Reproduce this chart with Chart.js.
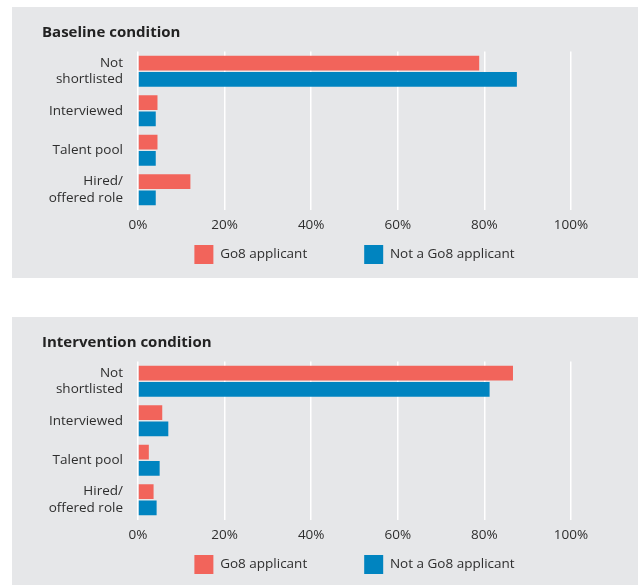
<!DOCTYPE html>
<html>
<head>
<meta charset="utf-8">
<script src="https://cdn.jsdelivr.net/npm/chart.js@4.4.1/dist/chart.umd.min.js"></script>
<style>
  html, body { margin: 0; padding: 0; background: #fff; width: 638px; height: 585px; overflow: hidden; }
  .panel { position: absolute; left: 12px; width: 626px; height: 271px; background: #e6e7e9; overflow: hidden; }
  #p1 { top: 7px; }
  #p2 { top: 317px; height: 268px; }
</style>
</head>
<body>
<div class="panel" id="p1"><canvas id="baseline" width="626" height="271"></canvas></div>
<div class="panel" id="p2"><canvas id="intervention" width="626" height="271"></canvas></div>
<script>
// categories and values (percent of applicants)
const categories = [["Not", "shortlisted"], "Interviewed", "Talent pool", ["Hired/", "offered role"]];
const seriesNames = ["Go8 applicant", "Not a Go8 applicant"];
const baselineGo8 = [78.8, 4.5, 4.5, 12.1];
const baselineNotGo8 = [87.5, 4.1, 4.1, 4.1];
const interventionGo8 = [86.6, 5.6, 2.5, 3.6];
const interventionNotGo8 = [81.2, 7.0, 5.0, 4.3];
const xTicks = [0, 20, 40, 60, 80, 100];

const RED = "#f2645b";
const BLUE = "#0084c0";
const TEXT = "#2e2e2e";
const LEGEND_BOX_TOP = 238; // inside each canvas

Chart.defaults.font.family = "'Open Sans', sans-serif";
Chart.defaults.font.size = 13.5;
Chart.defaults.color = TEXT;

// centre the legend under the plot area and keep its wide item gap
const legendPlacer = {
  id: "legendPlacer",
  afterLayout(chart) {
    const lg = chart.legend;
    const area = chart.chartArea;
    const pad = lg.options.labels.padding;
    const mid = (area.left + area.right) / 2;
    lg.left = mid - 320;
    lg.right = mid + 320;
    lg.width = 640;
    lg.top = LEGEND_BOX_TOP - pad;
    lg.bottom = LEGEND_BOX_TOP + 30;
    lg.height = lg.bottom - lg.top;
  }
};

function makeChart(id, title, go8, notGo8) {
  const ctx = document.getElementById(id).getContext("2d");
  return new Chart(ctx, {
    type: "bar",
    data: {
      labels: categories,
      datasets: [
        { label: seriesNames[0], data: go8, backgroundColor: RED, borderWidth: 0 },
        { label: seriesNames[1], data: notGo8, backgroundColor: BLUE, borderWidth: 0 }
      ]
    },
    options: {
      indexAxis: "y",
      responsive: false,
      animation: false,
      categoryPercentage: 0.82,
      barPercentage: 0.9,
      layout: {
        autoPadding: false,
        padding: { left: 30, right: 67, top: 7, bottom: 4.5 }
      },
      plugins: {
        tooltip: { enabled: false },
        title: {
          display: true,
          text: title,
          align: "start",
          color: "#222222",
          font: { size: 15, weight: "bold" },
          padding: { top: 10, bottom: 9.5 }
        },
        legend: {
          position: "bottom",
          maxHeight: 40,
          labels: {
            boxWidth: 19,
            boxHeight: 19,
            padding: 57,
            color: TEXT,
            font: { size: 13.5 }
          }
        }
      },
      scales: {
        x: {
          min: 0,
          max: 100,
          afterBuildTicks: (scale) => { scale.ticks = xTicks.map(v => ({ value: v })); },
          afterFit: (scale) => { scale.height = 24; },
          ticks: { padding: 8, color: TEXT, callback: (v) => v + "%" },
          grid: { color: "#ffffff", lineWidth: 1.5, drawTicks: false },
          border: { display: false }
        },
        y: {
          afterFit: (scale) => { scale.width = 96; },
          ticks: { padding: 15, color: TEXT },
          grid: { display: false, drawTicks: false },
          border: { display: false }
        }
      }
    },
    plugins: [legendPlacer]
  });
}

makeChart("baseline", "Baseline condition", baselineGo8, baselineNotGo8);
makeChart("intervention", "Intervention condition", interventionGo8, interventionNotGo8);
</script>
</body>
</html>
